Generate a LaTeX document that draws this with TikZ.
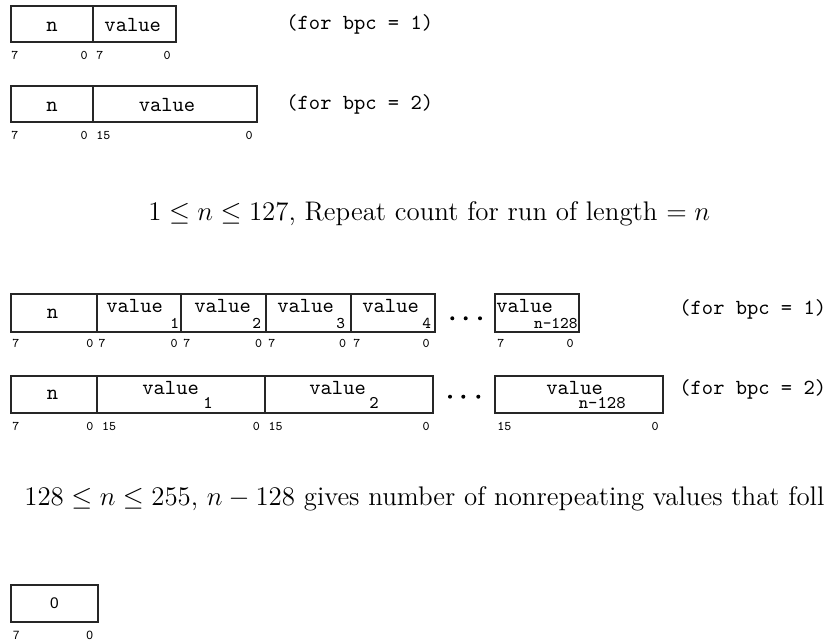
\documentclass[tikz,border=0pt]{standalone}
\usepackage{fix-cm}
\usepackage{fontspec}
\newfontfamily\sansf{Liberation Sans}
\newcommand\cell[5]{\node[cellbox, minimum width={(#4-#2)*0.5pt}, minimum height={(#5-#3)*0.5pt}] (#1) at ({(#2+#4)/2},{(#3+#5)/2}) {};}
\begin{document}
\begin{tikzpicture}[x=0.5pt,y=-0.5pt,
  cellbox/.style={draw=black!85, line width=0.6pt, inner sep=0pt, outer sep=0pt},
  mono/.style={font=\ttfamily\fontsize{10.75}{12}\selectfont, inner sep=0pt},
  subt/.style={font=\ttfamily\fontsize{8.2}{9}\selectfont, inner sep=0pt},
  subtb/.style={font=\ttfamily\fontsize{8.9}{10}\selectfont, inner sep=0pt},
  lab/.style={font=\ttfamily\fontsize{6.6}{7}\selectfont, inner sep=0pt},
  slab/.style={font=\sansf\fontsize{6}{7}\selectfont, inner sep=0pt},
  maintext/.style={font=\fontsize{13.45}{16}\selectfont, inner sep=0pt, anchor=base west},
  dot/.style={fill=black}]
\useasboundingbox (0,0) rectangle (830,641);

% ---------- row 1 ----------
\cell{n1}{11}{6}{93}{42}
\cell{v1}{93}{6}{176}{42}
\node[mono, anchor=base] (tn1) at (52,31.7) {n};
\node[mono, anchor=base] (tv1) at (132.7,31.7) {value};
\node[mono, anchor=base west] (bpc1) at (286,30) {(for bpc = 1)};
\node[lab, anchor=base west] (r1a) at (11,60) {7};
\node[lab, anchor=base east] (r1b) at (88,60) {0};
\node[lab, anchor=base west] (r1c) at (96,60) {7};
\node[lab, anchor=base east] (r1d) at (171,60) {0};

% ---------- row 2 ----------
\cell{n2}{11}{86}{93}{122}
\cell{v2}{93}{86}{257}{122}
\node[mono, anchor=base] (tn2) at (52,111.7) {n};
\node[mono, anchor=base] (tv2) at (167,111.7) {value};
\node[mono, anchor=base west] (bpc2) at (286,110) {(for bpc = 2)};
\node[lab, anchor=base west] (r2a) at (11,140) {7};
\node[lab, anchor=base east] (r2b) at (88,140) {0};
\node[lab, anchor=base west] (r2c) at (96,140) {15};
\node[lab, anchor=base east] (r2d) at (253,140) {0};

% ---------- text 1 ----------
\node[maintext] (txt1) at (148,221) {$1 \le n \le 127$, Repeat count for run of length $= n$};

% ---------- row 3 ----------
\cell{a0}{11}{294}{97}{332}
\cell{a1}{97}{294}{181}{332}
\cell{a2}{181}{294}{266}{332}
\cell{a3}{266}{294}{351}{332}
\cell{a4}{351}{294}{435}{332}
\cell{an}{495}{294}{579}{332}
\node[mono, anchor=base] (ta0) at (52.5,318.3) {n};
\node[mono, anchor=base west] (ta1) at (106,312.3) {value};
\node[mono, anchor=base west] (ta2) at (194,312.3) {value};
\node[mono, anchor=base west] (ta3) at (277,312.3) {value};
\node[mono, anchor=base west] (ta4) at (362,312.3) {value};
\node[mono, anchor=base west] (tan) at (496,312.3) {value};
\node[subt, anchor=base west] (sa1) at (170,328.3) {1};
\node[subt, anchor=base west] (sa2) at (252,328.3) {2};
\node[subt, anchor=base west] (sa3) at (336,328.3) {3};
\node[subt, anchor=base west] (sa4) at (422,328.3) {4};
\node[subt, anchor=base east] (san) at (578,328.3) {n-128};
\fill[dot] (452.3,318.3) circle (2);
\fill[dot] (465.7,318.3) circle (2);
\fill[dot] (480,318.3) circle (2);
\node[mono, anchor=base west] (bpc3) at (679,315) {(for bpc = 1)};
\node[lab, anchor=base west] (r3a) at (12,348) {7};
\node[lab, anchor=base east] (r3b) at (93.7,348) {0};
\node[lab, anchor=base west] (r3c) at (98.3,348) {7};
\node[lab, anchor=base east] (r3d) at (178,348) {0};
\node[lab, anchor=base west] (r3e) at (183,348) {7};
\node[lab, anchor=base east] (r3f) at (262.5,348) {0};
\node[lab, anchor=base west] (r3g) at (268,348) {7};
\node[lab, anchor=base east] (r3h) at (346.5,348) {0};
\node[lab, anchor=base west] (r3i) at (353,348) {7};
\node[lab, anchor=base east] (r3j) at (430,348) {0};
\node[lab, anchor=base west] (r3k) at (497,348) {7};
\node[lab, anchor=base east] (r3l) at (574,348) {0};

% ---------- row 4 ----------
\cell{b0}{11}{376}{97}{413}
\cell{b1}{97}{376}{265}{413}
\cell{b2}{265}{376}{433}{413}
\cell{bn}{495}{376}{663}{413}
\node[mono, anchor=base] (tb0) at (52.5,400) {n};
\node[mono, anchor=base west] (tb1) at (142,395) {value};
\node[mono, anchor=base west] (tb2) at (309,395) {value};
\node[mono, anchor=base west] (tbn) at (546,395) {value};
\node[subtb, anchor=base west] (sb1) at (203,409) {1};
\node[subtb, anchor=base west] (sb2) at (369,409) {2};
\node[subtb, anchor=base east] (sbn) at (626,409) {n-128};
\fill[dot] (450,396.7) circle (2);
\fill[dot] (463.3,396.7) circle (2);
\fill[dot] (478.3,396.7) circle (2);
\node[mono, anchor=base west] (bpc4) at (679,395) {(for bpc = 2)};
\node[lab, anchor=base west] (r4a) at (12,430) {7};
\node[lab, anchor=base east] (r4b) at (93.7,430) {0};
\node[lab, anchor=base west] (r4c) at (101.7,430) {15};
\node[lab, anchor=base east] (r4d) at (260.3,430) {0};
\node[lab, anchor=base west] (r4e) at (268.3,430) {15};
\node[lab, anchor=base east] (r4f) at (430,430) {0};
\node[lab, anchor=base west] (r4g) at (497,430) {15};
\node[lab, anchor=base east] (r4h) at (659,430) {0};

% ---------- text 2 ----------
\node[maintext] (txt2) at (24,506) {$128 \le n \le 255$, $n-128$ gives number of nonrepeating values that foll};

% ---------- row 5 ----------
\cell{c0}{11}{585}{98}{622}
\node[font=\sansf\fontsize{7.7}{9}\selectfont, inner sep=0pt] (tc0) at (c0.center) {0};
\node[slab, anchor=base west] (r5a) at (12.5,639.5) {7};
\node[slab, anchor=base east] (r5b) at (93.5,639.5) {0};
\end{tikzpicture}
\end{document}
